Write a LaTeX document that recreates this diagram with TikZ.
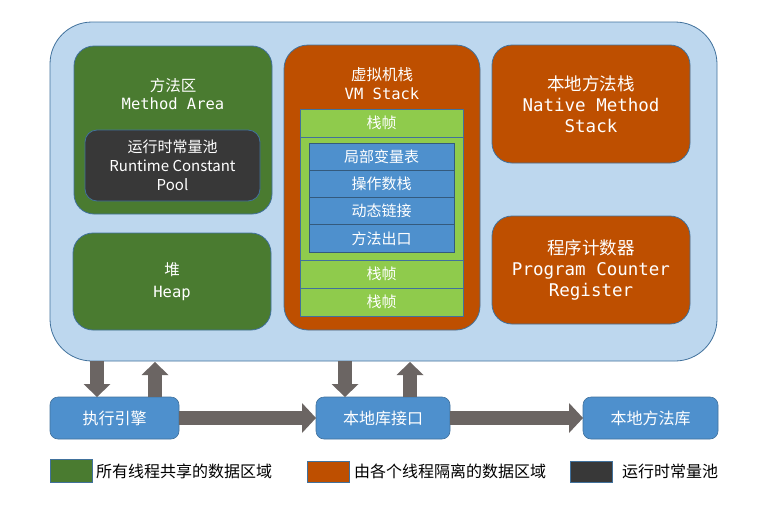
\documentclass[tikz,border=0pt]{standalone}
\usepackage{fontspec}
\setmainfont{Noto Sans CJK SC}
\newfontfamily\monof{DejaVu Sans Mono}
\usetikzlibrary{arrows.meta,calc}
\definecolor{jvmfill}{HTML}{BDD7EE}
\definecolor{edgeblue}{HTML}{41719C}
\definecolor{sharegreen}{HTML}{4A7B30}
\definecolor{privorange}{HTML}{BE4F00}
\definecolor{pooldark}{HTML}{383838}
\definecolor{framegreen}{HTML}{8FCB4C}
\definecolor{cellblue}{HTML}{4E90CD}
\definecolor{arrowgray}{HTML}{6B6563}
\begin{document}
\begin{tikzpicture}[x=1pt,y=-1pt,
  area/.style={draw=edgeblue, line width=0.8pt, rounded corners=20pt, inner sep=0pt, outer sep=0pt, anchor=north west},
  framebox/.style={draw=edgeblue, line width=0.6pt, fill=framegreen, inner sep=0pt, outer sep=0pt, anchor=north west, minimum width=163pt, text=white, font=\fontsize{15}{18}\selectfont},
  cellbox/.style={draw=edgeblue!80!black, line width=0.6pt, fill=cellblue, inner sep=0pt, outer sep=0pt, anchor=north west, minimum width=145pt, minimum height=27.25pt, text=white, font=\fontsize{15}{18}\selectfont},
  bottombox/.style={draw=edgeblue, line width=0.6pt, fill=cellblue, rounded corners=8pt, inner sep=0pt, outer sep=0pt, anchor=north west, minimum height=42pt, text=white, font=\fontsize{16}{19}\selectfont},
  wtext/.style={text=white, align=center, inner sep=0pt},
  legsq/.style={draw=edgeblue, line width=0.8pt, inner sep=0pt, anchor=north west, minimum width=42pt, minimum height=22pt},
  legtext/.style={anchor=west, inner sep=0pt, font=\fontsize{16}{19}\selectfont},
  harrow/.style={draw=arrowgray, line width=14pt, -{Triangle[length=14pt,width=30pt,line width=0pt]}},
  varrow/.style={draw=arrowgray, line width=14pt, -{Triangle[length=13pt,width=27pt,line width=0pt]}}
]
\useasboundingbox (0,0) rectangle (770,506);

% outer JVM runtime area
\node[area, fill=jvmfill, rounded corners=42pt, minimum width=667pt, minimum height=339pt] (jvm) at (50,22) {};

% method area
\node[area, fill=sharegreen, minimum width=198pt, minimum height=168pt] (method) at (74,46) {};
\node[wtext, font=\fontsize{15.5}{19}\selectfont] (methodcn) at (173,86) {方法区};
\node[wtext, font=\monof\fontsize{15.5}{19}\selectfont] (methoden) at (173,104) {Method Area};
\node[area, fill=pooldark, rounded corners=12pt, minimum width=175pt, minimum height=71pt] (pool) at (85,130) {};
\node[wtext, font=\fontsize{15}{19}\selectfont] (pooltext) at (pool.center) {运行时常量池\\Runtime Constant\\Pool};

% heap
\node[area, fill=sharegreen, minimum width=198pt, minimum height=97pt] (heap) at (73,233) {};
\node[wtext, font=\fontsize{15.5}{22}\selectfont] (heaptext) at (heap.center) {堆\\{\monof Heap}};

% VM stack
\node[area, fill=privorange, rounded corners=24pt, minimum width=196pt, minimum height=285pt] (vms) at (284,45) {};
\node[wtext, font=\fontsize{15.5}{19}\selectfont] (vmscn) at (382,75) {虚拟机栈};
\node[wtext, font=\monof\fontsize{15.5}{19}\selectfont] (vmsen) at (382,94) {VM Stack};
\node[framebox, minimum height=28pt] (f1) at (300,109) {栈帧};
\node[framebox, minimum height=123pt] (fbig) at (300,137) {};
\node[cellbox] (c1) at (309,143) {局部变量表};
\node[cellbox] (c2) at (309,170.25) {操作数栈};
\node[cellbox] (c3) at (309,197.5) {动态链接};
\node[cellbox] (c4) at (309,224.75) {方法出口};
\node[framebox, minimum height=28pt] (f2) at (300,260) {栈帧};
\node[framebox, minimum height=28pt] (f3) at (300,288) {栈帧};

% native method stack
\node[area, fill=privorange, minimum width=198pt, minimum height=118pt] (nms) at (492,45) {};
\node[wtext, font=\fontsize{17.5}{21}\selectfont] (nmstext) at (nms.center) {本地方法栈\\{\monof Native Method}\\{\monof Stack}};

% program counter
\node[area, fill=privorange, minimum width=198pt, minimum height=108pt] (pc) at (492,216) {};
\node[wtext, font=\fontsize{17.5}{21}\selectfont] (pctext) at (pc.center) {程序计数器\\{\monof Program Counter}\\{\monof Register}};

% bottom boxes
\node[bottombox, minimum width=129pt] (exec) at (50,397) {执行引擎};
\node[bottombox, minimum width=134pt] (nif) at (316,397) {本地库接口};
\node[bottombox, minimum width=135pt] (nlib) at (583,397) {本地方法库};

% arrows
\draw[varrow] ($(exec.north west)+(47,-36)$) -- ($(exec.north west)+(47,0)$);
\draw[varrow] ($(exec.north west)+(105,0)$) -- ($(exec.north west)+(105,-35)$);
\draw[varrow] ($(nif.north west)+(29,-36)$) -- ($(nif.north west)+(29,0)$);
\draw[varrow] ($(nif.north west)+(94,0)$) -- ($(nif.north west)+(94,-35)$);
\draw[harrow] (exec.east) -- (nif.west);
\draw[harrow] (nif.east) -- (nlib.west);

% legend
\node[legsq, fill=sharegreen, minimum height=23pt] (lg1) at (50,459) {};
\node[legtext] (lt1) at (96,471) {所有线程共享的数据区域};
\node[legsq, fill=privorange, minimum height=21pt] (lg2) at (307,461) {};
\node[legtext] (lt2) at (354,471) {由各个线程隔离的数据区域};
\node[legsq, fill=pooldark, minimum height=21pt] (lg3) at (570,461) {};
\node[legtext] (lt3) at (622,471) {运行时常量池};
\end{tikzpicture}
\end{document}
